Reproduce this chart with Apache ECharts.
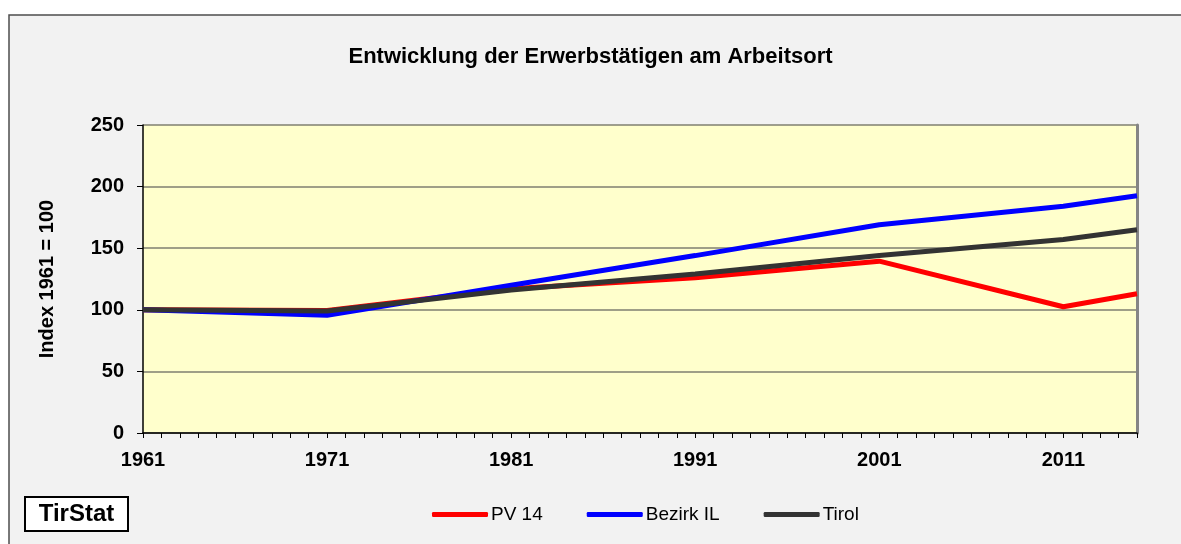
<!DOCTYPE html>
<html>
<head>
<meta charset="utf-8">
<script src="https://cdn.jsdelivr.net/npm/echarts@6/dist/echarts.min.js"></script>
<style>
html,body{margin:0;padding:0;background:#ffffff;}
#chart{width:1181px;height:544px;}
</style>
</head>
<body>
<div id="chart"></div>
<script>
// ---- data ----
const titleText = 'Entwicklung der Erwerbstätigen am Arbeitsort';
const yAxisName = 'Index 1961 = 100';
const firstYear = 1961;
const lastYear = 2015;
const sampleYears = [1961, 1971, 1981, 1991, 2001, 2011, 2015];
const pv14      = [100, 99.5, 117, 126, 139.5, 102.5, 113];
const bezirkIL  = [100, 95.5, 120, 144, 169, 184, 192.5];
const tirol     = [100, 99, 116, 129, 144, 157, 165];
const seriesNames = ['PV 14', 'Bezirk IL', 'Tirol'];
const yTicks = [0, 50, 100, 150, 200, 250];

// build category axis (one category per year)
const categories = [];
for (let y = firstYear; y <= lastYear; y++) categories.push(String(y));
function toFull(vals) {
  const m = {};
  sampleYears.forEach((yr, i) => { m[yr] = vals[i]; });
  return categories.map(c => (m[+c] !== undefined ? m[+c] : null));
}

const FONT = 'Liberation Sans, Arial, sans-serif';
const chart = echarts.init(document.getElementById('chart'), null, {renderer: 'canvas'});

const option = {
  backgroundColor: '#ffffff',
  animation: false,
  title: {
    text: titleText,
    left: 'center',
    top: 41,
    textStyle: {fontFamily: FONT, fontWeight: 'bold', fontSize: 22, color: '#000'}
  },
  graphic: [
    {type: 'rect', z: -10, shape: {x: 9, y: 15, width: 1200, height: 560},
     style: {fill: '#f2f2f2', stroke: '#4d4d4d', lineWidth: 1.5}},
    {type: 'rect', z: 10, shape: {x: 25, y: 497, width: 103, height: 34},
     style: {fill: '#ffffff', stroke: '#000000', lineWidth: 2}},
    {type: 'text', z: 11, x: 76.5, y: 514,
     style: {text: 'TirStat', fontFamily: FONT, fontWeight: 'bold', fontSize: 24,
             fill: '#000', textAlign: 'center', textVerticalAlign: 'middle'}}
  ],
  legend: {
    data: seriesNames,
    left: 427,
    top: 500,
    icon: 'roundRect',
    itemWidth: 56,
    itemHeight: 5,
    itemGap: 44,
    textStyle: {fontFamily: FONT, fontSize: 19, color: '#000', padding: [0, 0, 0, -2]}
  },
  grid: {
    left: 143, right: 44, top: 125, bottom: 111,
    show: true, backgroundColor: '#ffffcc', borderWidth: 0
  },
  xAxis: {
    type: 'category',
    data: categories,
    boundaryGap: false,
    axisLine: {show: true, lineStyle: {color: '#000', width: 1.5}},
    axisTick: {show: true, interval: 0, length: 5, lineStyle: {color: '#000', width: 1}},
    axisLabel: {interval: 9, margin: 17, fontFamily: FONT, fontWeight: 'bold', fontSize: 20, color: '#000'},
    splitLine: {show: false}
  },
  yAxis: [
    {
      type: 'value', min: 0, max: 250, interval: 50,
      name: yAxisName, nameLocation: 'middle', nameGap: 86,
      nameTextStyle: {fontFamily: FONT, fontWeight: 'bold', fontSize: 20, color: '#000'},
      axisLine: {show: true, lineStyle: {color: '#000', width: 1.5}},
      axisTick: {show: true, length: 6, lineStyle: {color: '#000', width: 1}},
      axisLabel: {margin: 19, fontFamily: FONT, fontWeight: 'bold', fontSize: 20, color: '#000',
                  formatter: v => (yTicks.indexOf(v) >= 0 ? String(v) : '')},
      splitLine: {show: true, lineStyle: {color: '#7f7f70', width: 1.5}}
    },
    {
      type: 'value', min: 0, max: 250, interval: 50, position: 'right',
      axisLine: {show: true, lineStyle: {color: '#858585', width: 3}},
      axisTick: {show: false}, axisLabel: {show: false}, splitLine: {show: false}
    }
  ],
  series: [
    {name: seriesNames[0], type: 'line', data: toFull(pv14), connectNulls: true, symbol: 'none',
     itemStyle: {color: '#ff0000'}, lineStyle: {color: '#ff0000', width: 5}, z: 2},
    {name: seriesNames[1], type: 'line', data: toFull(bezirkIL), connectNulls: true, symbol: 'none',
     itemStyle: {color: '#0000ff'}, lineStyle: {color: '#0000ff', width: 5}, z: 3},
    {name: seriesNames[2], type: 'line', data: toFull(tirol), connectNulls: true, symbol: 'none',
     itemStyle: {color: '#333333'}, lineStyle: {color: '#333333', width: 5}, z: 4}
  ]
};
chart.setOption(option);
</script>
</body>
</html>
